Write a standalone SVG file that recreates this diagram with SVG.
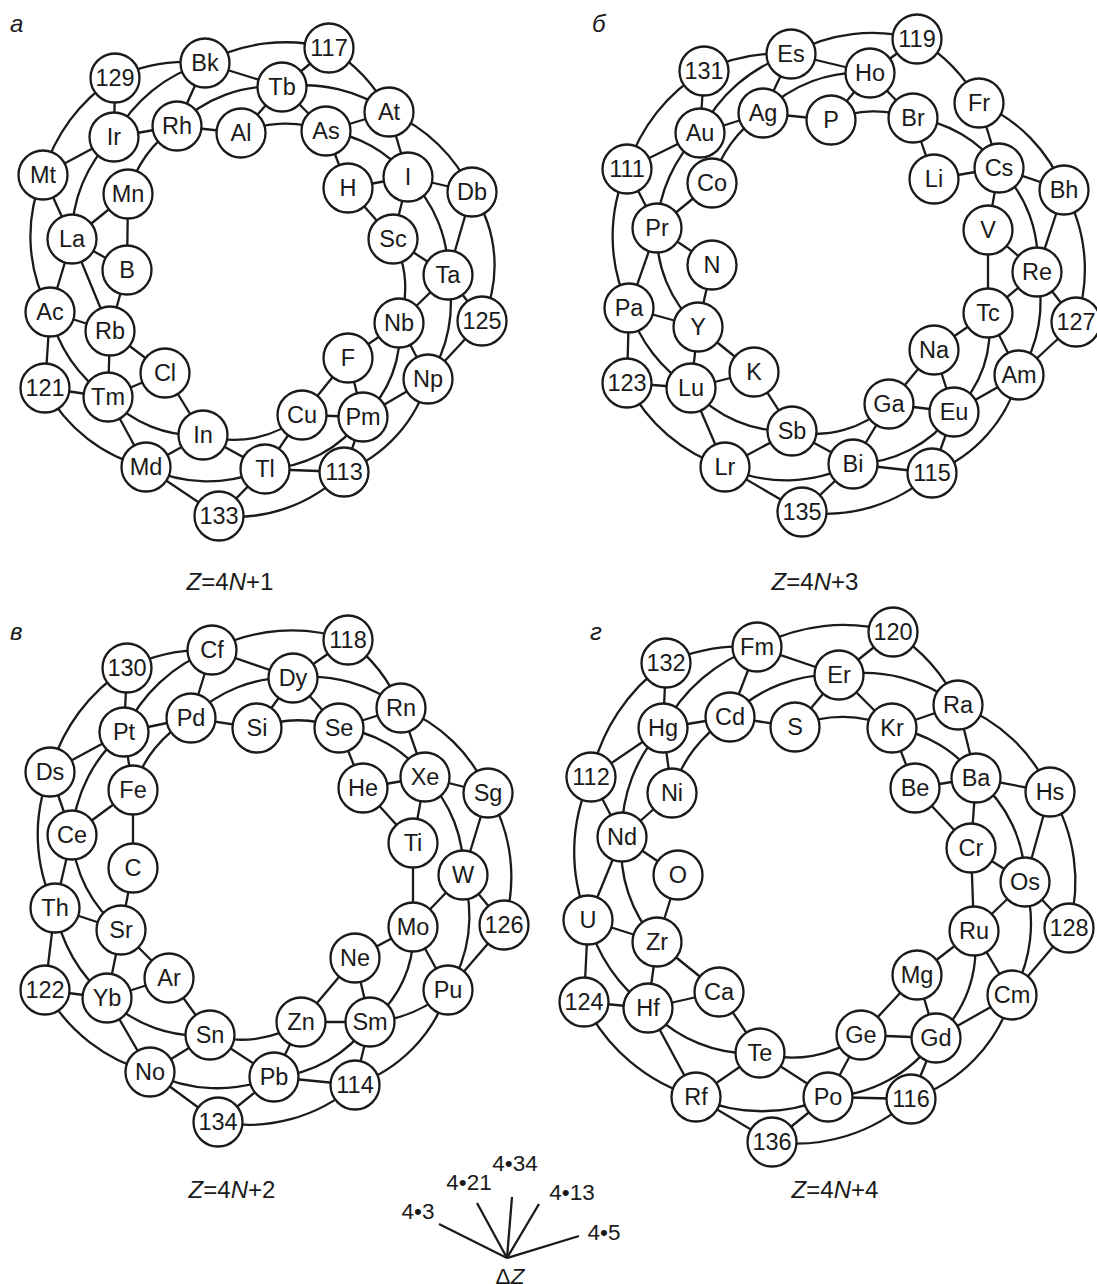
<svg xmlns="http://www.w3.org/2000/svg" width="1097" height="1284" viewBox="0 0 1097 1284">
<style>
.e path{fill:none;stroke:#1a1a1a;stroke-width:2.3}
.n circle{fill:#fff;stroke:#1a1a1a;stroke-width:2.3}
.n text{font-family:"Liberation Sans",Arial,sans-serif;font-size:23.5px;text-anchor:middle;fill:#1a1a1a}
.lbl{font-family:"Liberation Sans",Arial,sans-serif;font-style:italic;font-size:24px;fill:#1a1a1a}
.cap{font-family:"Liberation Sans",Arial,sans-serif;font-size:24px;text-anchor:middle;fill:#1a1a1a}
.lg{font-family:"Liberation Sans",Arial,sans-serif;font-size:22.5px;text-anchor:middle;fill:#1a1a1a}
</style>
<rect width="1097" height="1284" fill="#fff"/>
<g id="connectors" class="e">
<path d="M115 78 A167 167 0 0 1 205 63"/>
<path d="M205 63 A167 167 0 0 1 329 48"/>
<path d="M115 78 L114 137"/>
<path d="M43 175 A171 171 0 0 1 115 78"/>
<path d="M205 63 L282 87"/>
<path d="M205 63 L177 126"/>
<path d="M114 137 A151 151 0 0 1 205 63"/>
<path d="M329 48 L282 87"/>
<path d="M329 48 A163 163 0 0 1 389 112"/>
<path d="M177 126 A132 132 0 0 1 282 87"/>
<path d="M282 87 L241 133"/>
<path d="M282 87 A147 147 0 0 1 389 112"/>
<path d="M282 87 L326 131"/>
<path d="M114 137 L177 126"/>
<path d="M177 126 L241 133"/>
<path d="M241 133 A113 113 0 0 1 326 131"/>
<path d="M326 131 L389 112"/>
<path d="M114 137 L43 175"/>
<path d="M72 239 A138 138 0 0 1 114 137"/>
<path d="M128 194 A117 117 0 0 1 177 126"/>
<path d="M326 131 L348 188"/>
<path d="M326 131 A125 125 0 0 1 408 177"/>
<path d="M389 112 L408 177"/>
<path d="M389 112 A159 159 0 0 1 472 192"/>
<path d="M348 188 L408 177"/>
<path d="M408 177 L472 192"/>
<path d="M43 175 L72 239"/>
<path d="M50 312 A156 156 0 0 1 43 175"/>
<path d="M128 194 L72 239"/>
<path d="M128 194 L127 270"/>
<path d="M72 239 L50 312"/>
<path d="M72 239 L110 331"/>
<path d="M72 239 L127 270"/>
<path d="M393 239 L408 177"/>
<path d="M393 239 L348 188"/>
<path d="M408 177 A133 133 0 0 1 448 275"/>
<path d="M472 192 L448 275"/>
<path d="M472 192 A130 130 0 0 1 482 321"/>
<path d="M393 239 L448 275"/>
<path d="M393 239 A103 103 0 0 1 399 323"/>
<path d="M448 275 L399 323"/>
<path d="M448 275 A137 137 0 0 1 428 379"/>
<path d="M448 275 L482 321"/>
<path d="M482 321 L428 379"/>
<path d="M399 323 L348 358"/>
<path d="M399 323 L428 379"/>
<path d="M399 323 A112 112 0 0 1 363 417"/>
<path d="M348 358 L302 415"/>
<path d="M348 358 L363 417"/>
<path d="M428 379 L363 417"/>
<path d="M428 379 A141 141 0 0 1 344 472"/>
<path d="M302 415 L363 417"/>
<path d="M302 415 A104 104 0 0 1 203 435"/>
<path d="M302 415 L265 469"/>
<path d="M363 417 A124 124 0 0 1 265 469"/>
<path d="M363 417 L344 472"/>
<path d="M265 469 L344 472"/>
<path d="M265 469 L203 435"/>
<path d="M265 469 A139 139 0 0 1 146 467"/>
<path d="M265 469 L219 516"/>
<path d="M344 472 A154 154 0 0 1 219 516"/>
<path d="M203 435 L165 373"/>
<path d="M203 435 A120 120 0 0 1 108 397"/>
<path d="M203 435 L146 467"/>
<path d="M146 467 L108 397"/>
<path d="M146 467 A156 156 0 0 1 45 388"/>
<path d="M146 467 L219 516"/>
<path d="M108 397 L45 388"/>
<path d="M108 397 L165 373"/>
<path d="M108 397 L110 331"/>
<path d="M108 397 A137 137 0 0 1 50 312"/>
<path d="M110 331 L165 373"/>
<path d="M110 331 L50 312"/>
<path d="M127 270 L110 331"/>
<path d="M50 312 L45 388"/>
<path d="M704 71 A169 169 0 0 1 791 54"/>
<path d="M791 54 A167 167 0 0 1 917 39"/>
<path d="M704 71 L700 133"/>
<path d="M627 169 A175 175 0 0 1 704 71"/>
<path d="M791 54 L870 73"/>
<path d="M791 54 L763 113"/>
<path d="M700 133 A153 153 0 0 1 791 54"/>
<path d="M917 39 L870 73"/>
<path d="M917 39 A161 161 0 0 1 979 103"/>
<path d="M763 113 A136 136 0 0 1 870 73"/>
<path d="M870 73 L831 120"/>
<path d="M870 73 L913 118"/>
<path d="M700 133 L763 113"/>
<path d="M763 113 L831 120"/>
<path d="M831 120 A114 114 0 0 1 913 118"/>
<path d="M700 133 L627 169"/>
<path d="M657 228 A143 143 0 0 1 700 133"/>
<path d="M712 183 A123 123 0 0 1 763 113"/>
<path d="M913 118 L934 179"/>
<path d="M913 118 A124 124 0 0 1 999 168"/>
<path d="M979 103 L999 168"/>
<path d="M979 103 A156 156 0 0 1 1064 190"/>
<path d="M934 179 L999 168"/>
<path d="M999 168 L1064 190"/>
<path d="M627 169 L657 228"/>
<path d="M629 308 A165 165 0 0 1 627 169"/>
<path d="M712 183 L657 228"/>
<path d="M999 168 L988 230"/>
<path d="M999 168 A129 129 0 0 1 1037 272"/>
<path d="M1064 190 L1037 272"/>
<path d="M1064 190 A161 161 0 0 1 1076 322"/>
<path d="M657 228 L712 265"/>
<path d="M657 228 L629 308"/>
<path d="M698 327 A126 126 0 0 1 657 228"/>
<path d="M988 230 L1037 272"/>
<path d="M988 230 L988 313"/>
<path d="M629 308 L627 383"/>
<path d="M629 308 L698 327"/>
<path d="M691 388 A147 147 0 0 1 629 308"/>
<path d="M712 265 L698 327"/>
<path d="M698 327 L691 388"/>
<path d="M698 327 L754 372"/>
<path d="M627 383 L691 388"/>
<path d="M725 467 A167 167 0 0 1 627 383"/>
<path d="M691 388 L754 372"/>
<path d="M792 431 A126 126 0 0 1 691 388"/>
<path d="M691 388 L725 467"/>
<path d="M754 372 L792 431"/>
<path d="M889 404 A105 105 0 0 1 792 431"/>
<path d="M792 431 L725 467"/>
<path d="M792 431 L853 464"/>
<path d="M853 464 A146 146 0 0 1 725 467"/>
<path d="M725 467 L802 512"/>
<path d="M853 464 L889 404"/>
<path d="M954 412 A126 126 0 0 1 853 464"/>
<path d="M853 464 L932 473"/>
<path d="M853 464 L802 512"/>
<path d="M932 473 A159 159 0 0 1 802 512"/>
<path d="M889 404 L934 350"/>
<path d="M889 404 L954 412"/>
<path d="M934 350 L988 313"/>
<path d="M934 350 L954 412"/>
<path d="M988 313 A110 110 0 0 1 954 412"/>
<path d="M954 412 L1019 375"/>
<path d="M954 412 L932 473"/>
<path d="M1019 375 A143 143 0 0 1 932 473"/>
<path d="M988 313 L1037 272"/>
<path d="M988 313 L1019 375"/>
<path d="M1037 272 A133 133 0 0 1 1019 375"/>
<path d="M1037 272 L1076 322"/>
<path d="M1076 322 L1019 375"/>
<path d="M127 668 A174 174 0 0 1 212 650"/>
<path d="M212 650 A172 172 0 0 1 348 640"/>
<path d="M127 668 L124 732"/>
<path d="M50 772 A178 178 0 0 1 127 668"/>
<path d="M212 650 L293 678"/>
<path d="M212 650 L191 718"/>
<path d="M124 732 A158 158 0 0 1 212 650"/>
<path d="M348 640 L293 678"/>
<path d="M348 640 A163 163 0 0 1 401 708"/>
<path d="M191 718 A136 136 0 0 1 293 678"/>
<path d="M293 678 L257 728"/>
<path d="M293 678 L339 728"/>
<path d="M293 678 A146 146 0 0 1 401 708"/>
<path d="M124 732 L191 718"/>
<path d="M191 718 L257 728"/>
<path d="M257 728 A112 112 0 0 1 339 728"/>
<path d="M339 728 L401 708"/>
<path d="M339 728 L363 788"/>
<path d="M339 728 A122 122 0 0 1 425 777"/>
<path d="M401 708 L425 777"/>
<path d="M401 708 A155 155 0 0 1 488 793"/>
<path d="M124 732 L50 772"/>
<path d="M72 835 A147 147 0 0 1 124 732"/>
<path d="M124 732 L133 790"/>
<path d="M133 790 A123 123 0 0 1 191 718"/>
<path d="M50 772 L72 835"/>
<path d="M55 908 A165 165 0 0 1 50 772"/>
<path d="M363 788 L425 777"/>
<path d="M363 788 L413 843"/>
<path d="M425 777 L488 793"/>
<path d="M425 777 L413 843"/>
<path d="M425 777 A130 130 0 0 1 463 875"/>
<path d="M488 793 L463 875"/>
<path d="M488 793 A162 162 0 0 1 504 925"/>
<path d="M133 790 L72 835"/>
<path d="M133 790 L133 868"/>
<path d="M72 835 L55 908"/>
<path d="M121 930 A130 130 0 0 1 72 835"/>
<path d="M133 868 L121 930"/>
<path d="M413 843 L413 927"/>
<path d="M463 875 L413 927"/>
<path d="M463 875 A137 137 0 0 1 448 990"/>
<path d="M463 875 L504 925"/>
<path d="M55 908 L121 930"/>
<path d="M55 908 L45 990"/>
<path d="M107 998 A150 150 0 0 1 55 908"/>
<path d="M121 930 L107 998"/>
<path d="M121 930 L169 978"/>
<path d="M413 927 L355 958"/>
<path d="M413 927 A110 110 0 0 1 370 1022"/>
<path d="M413 927 L448 990"/>
<path d="M504 925 L448 990"/>
<path d="M355 958 L301 1022"/>
<path d="M355 958 L370 1022"/>
<path d="M169 978 L107 998"/>
<path d="M169 978 L210 1035"/>
<path d="M45 990 L107 998"/>
<path d="M150 1072 A169 169 0 0 1 45 990"/>
<path d="M210 1035 A130 130 0 0 1 107 998"/>
<path d="M107 998 L150 1072"/>
<path d="M301 1022 L370 1022"/>
<path d="M301 1022 A108 108 0 0 1 210 1035"/>
<path d="M301 1022 L274 1077"/>
<path d="M370 1022 A128 128 0 0 1 274 1077"/>
<path d="M370 1022 L355 1085"/>
<path d="M448 990 A131 131 0 0 1 370 1022"/>
<path d="M448 990 A148 148 0 0 1 355 1085"/>
<path d="M210 1035 L150 1072"/>
<path d="M210 1035 L274 1077"/>
<path d="M274 1077 A148 148 0 0 1 150 1072"/>
<path d="M150 1072 L218 1122"/>
<path d="M274 1077 L355 1085"/>
<path d="M274 1077 L218 1122"/>
<path d="M355 1085 A163 163 0 0 1 218 1122"/>
<path d="M666 663 A184 184 0 0 1 757 647"/>
<path d="M757 647 A180 180 0 0 1 893 632"/>
<path d="M666 663 L663 728"/>
<path d="M591 777 A187 187 0 0 1 666 663"/>
<path d="M757 647 L839 675"/>
<path d="M757 647 L730 717"/>
<path d="M663 728 A167 167 0 0 1 757 647"/>
<path d="M893 632 L839 675"/>
<path d="M893 632 A171 171 0 0 1 958 705"/>
<path d="M730 717 A143 143 0 0 1 839 675"/>
<path d="M839 675 L795 727"/>
<path d="M839 675 L892 728"/>
<path d="M839 675 A153 153 0 0 1 958 705"/>
<path d="M663 728 L730 717"/>
<path d="M730 717 L795 727"/>
<path d="M795 727 A117 117 0 0 1 892 728"/>
<path d="M892 728 L958 705"/>
<path d="M892 728 L915 788"/>
<path d="M892 728 A125 125 0 0 1 976 778"/>
<path d="M958 705 L976 778"/>
<path d="M958 705 A164 164 0 0 1 1050 792"/>
<path d="M663 728 L591 777"/>
<path d="M622 837 A153 153 0 0 1 663 728"/>
<path d="M663 728 L672 793"/>
<path d="M672 793 A131 131 0 0 1 730 717"/>
<path d="M915 788 L976 778"/>
<path d="M915 788 L971 848"/>
<path d="M976 778 L1050 792"/>
<path d="M976 778 L971 848"/>
<path d="M976 778 A134 134 0 0 1 1025 882"/>
<path d="M1050 792 L1025 882"/>
<path d="M1050 792 A171 171 0 0 1 1069 928"/>
<path d="M591 777 L622 837"/>
<path d="M588 920 A175 175 0 0 1 591 777"/>
<path d="M672 793 L622 837"/>
<path d="M622 837 L588 920"/>
<path d="M657 942 A136 136 0 0 1 622 837"/>
<path d="M622 837 L678 875"/>
<path d="M678 875 L657 942"/>
<path d="M588 920 L657 942"/>
<path d="M588 920 L584 1002"/>
<path d="M648 1008 A159 159 0 0 1 588 920"/>
<path d="M657 942 L648 1008"/>
<path d="M657 942 L719 992"/>
<path d="M971 848 L974 931"/>
<path d="M971 848 L1025 882"/>
<path d="M1025 882 L974 931"/>
<path d="M1025 882 A145 145 0 0 1 1012 995"/>
<path d="M1025 882 L1069 928"/>
<path d="M974 931 L917 975"/>
<path d="M974 931 A119 119 0 0 1 936 1038"/>
<path d="M974 931 L1012 995"/>
<path d="M1069 928 L1012 995"/>
<path d="M917 975 L861 1035"/>
<path d="M917 975 L936 1038"/>
<path d="M584 1002 L648 1008"/>
<path d="M696 1097 A180 180 0 0 1 584 1002"/>
<path d="M648 1008 L719 992"/>
<path d="M760 1053 A138 138 0 0 1 648 1008"/>
<path d="M648 1008 L696 1097"/>
<path d="M719 992 L760 1053"/>
<path d="M861 1035 A116 116 0 0 1 760 1053"/>
<path d="M861 1035 L936 1038"/>
<path d="M861 1035 L828 1097"/>
<path d="M936 1038 A139 139 0 0 1 828 1097"/>
<path d="M936 1038 L911 1099"/>
<path d="M1012 995 L936 1038"/>
<path d="M1012 995 A155 155 0 0 1 911 1099"/>
<path d="M760 1053 L696 1097"/>
<path d="M760 1053 L828 1097"/>
<path d="M828 1097 A160 160 0 0 1 696 1097"/>
<path d="M696 1097 L772 1142"/>
<path d="M828 1097 L772 1142"/>
<path d="M828 1097 L911 1099"/>
<path d="M911 1099 A171 171 0 0 1 772 1142"/>
<path d="M507 1258 L439 1224"/>
<path d="M507 1258 L477 1203"/>
<path d="M507 1258 L512 1197"/>
<path d="M507 1258 L539 1204"/>
<path d="M507 1258 L579 1236"/>
</g>
<g id="a-129" class="n"><circle cx="115" cy="78" r="24.5"/><text x="115" y="86">129</text></g>
<g id="a-Bk" class="n"><circle cx="205" cy="63" r="24.5"/><text x="205" y="71">Bk</text></g>
<g id="a-117" class="n"><circle cx="329" cy="48" r="24.5"/><text x="329" y="56">117</text></g>
<g id="a-Tb" class="n"><circle cx="282" cy="87" r="24.5"/><text x="282" y="95">Tb</text></g>
<g id="a-At" class="n"><circle cx="389" cy="112" r="24.5"/><text x="389" y="120">At</text></g>
<g id="a-Ir" class="n"><circle cx="114" cy="137" r="24.5"/><text x="114" y="145">Ir</text></g>
<g id="a-Rh" class="n"><circle cx="177" cy="126" r="24.5"/><text x="177" y="134">Rh</text></g>
<g id="a-Al" class="n"><circle cx="241" cy="133" r="24.5"/><text x="241" y="141">Al</text></g>
<g id="a-As" class="n"><circle cx="326" cy="131" r="24.5"/><text x="326" y="139">As</text></g>
<g id="a-Mt" class="n"><circle cx="43" cy="175" r="24.5"/><text x="43" y="183">Mt</text></g>
<g id="a-Mn" class="n"><circle cx="128" cy="194" r="24.5"/><text x="128" y="202">Mn</text></g>
<g id="a-H" class="n"><circle cx="348" cy="188" r="24.5"/><text x="348" y="196">H</text></g>
<g id="a-I" class="n"><circle cx="408" cy="177" r="24.5"/><text x="408" y="185">I</text></g>
<g id="a-Db" class="n"><circle cx="472" cy="192" r="24.5"/><text x="472" y="200">Db</text></g>
<g id="a-La" class="n"><circle cx="72" cy="239" r="24.5"/><text x="72" y="247">La</text></g>
<g id="a-Sc" class="n"><circle cx="393" cy="239" r="24.5"/><text x="393" y="247">Sc</text></g>
<g id="a-B" class="n"><circle cx="127" cy="270" r="24.5"/><text x="127" y="278">B</text></g>
<g id="a-Ta" class="n"><circle cx="448" cy="275" r="24.5"/><text x="448" y="283">Ta</text></g>
<g id="a-Ac" class="n"><circle cx="50" cy="312" r="24.5"/><text x="50" y="320">Ac</text></g>
<g id="a-Rb" class="n"><circle cx="110" cy="331" r="24.5"/><text x="110" y="339">Rb</text></g>
<g id="a-Nb" class="n"><circle cx="399" cy="323" r="24.5"/><text x="399" y="331">Nb</text></g>
<g id="a-125" class="n"><circle cx="482" cy="321" r="24.5"/><text x="482" y="329">125</text></g>
<g id="a-Cl" class="n"><circle cx="165" cy="373" r="24.5"/><text x="165" y="381">Cl</text></g>
<g id="a-F" class="n"><circle cx="348" cy="358" r="24.5"/><text x="348" y="366">F</text></g>
<g id="a-Np" class="n"><circle cx="428" cy="379" r="24.5"/><text x="428" y="387">Np</text></g>
<g id="a-121" class="n"><circle cx="45" cy="388" r="24.5"/><text x="45" y="396">121</text></g>
<g id="a-Tm" class="n"><circle cx="108" cy="397" r="24.5"/><text x="108" y="405">Tm</text></g>
<g id="a-In" class="n"><circle cx="203" cy="435" r="24.5"/><text x="203" y="443">In</text></g>
<g id="a-Cu" class="n"><circle cx="302" cy="415" r="24.5"/><text x="302" y="423">Cu</text></g>
<g id="a-Pm" class="n"><circle cx="363" cy="417" r="24.5"/><text x="363" y="425">Pm</text></g>
<g id="a-Md" class="n"><circle cx="146" cy="467" r="24.5"/><text x="146" y="475">Md</text></g>
<g id="a-Tl" class="n"><circle cx="265" cy="469" r="24.5"/><text x="265" y="477">Tl</text></g>
<g id="a-113" class="n"><circle cx="344" cy="472" r="24.5"/><text x="344" y="480">113</text></g>
<g id="a-133" class="n"><circle cx="219" cy="516" r="24.5"/><text x="219" y="524">133</text></g>
<g id="b-119" class="n"><circle cx="917" cy="39" r="24.5"/><text x="917" y="47">119</text></g>
<g id="b-Es" class="n"><circle cx="791" cy="54" r="24.5"/><text x="791" y="62">Es</text></g>
<g id="b-131" class="n"><circle cx="704" cy="71" r="24.5"/><text x="704" y="79">131</text></g>
<g id="b-Ho" class="n"><circle cx="870" cy="73" r="24.5"/><text x="870" y="81">Ho</text></g>
<g id="b-Fr" class="n"><circle cx="979" cy="103" r="24.5"/><text x="979" y="111">Fr</text></g>
<g id="b-Ag" class="n"><circle cx="763" cy="113" r="24.5"/><text x="763" y="121">Ag</text></g>
<g id="b-P" class="n"><circle cx="831" cy="120" r="24.5"/><text x="831" y="128">P</text></g>
<g id="b-Br" class="n"><circle cx="913" cy="118" r="24.5"/><text x="913" y="126">Br</text></g>
<g id="b-Au" class="n"><circle cx="700" cy="133" r="24.5"/><text x="700" y="141">Au</text></g>
<g id="b-Cs" class="n"><circle cx="999" cy="168" r="24.5"/><text x="999" y="176">Cs</text></g>
<g id="b-111" class="n"><circle cx="627" cy="169" r="24.5"/><text x="627" y="177">111</text></g>
<g id="b-Co" class="n"><circle cx="712" cy="183" r="24.5"/><text x="712" y="191">Co</text></g>
<g id="b-Li" class="n"><circle cx="934" cy="179" r="24.5"/><text x="934" y="187">Li</text></g>
<g id="b-Bh" class="n"><circle cx="1064" cy="190" r="24.5"/><text x="1064" y="198">Bh</text></g>
<g id="b-Pr" class="n"><circle cx="657" cy="228" r="24.5"/><text x="657" y="236">Pr</text></g>
<g id="b-V" class="n"><circle cx="988" cy="230" r="24.5"/><text x="988" y="238">V</text></g>
<g id="b-N" class="n"><circle cx="712" cy="265" r="24.5"/><text x="712" y="273">N</text></g>
<g id="b-Re" class="n"><circle cx="1037" cy="272" r="24.5"/><text x="1037" y="280">Re</text></g>
<g id="b-Pa" class="n"><circle cx="629" cy="308" r="24.5"/><text x="629" y="316">Pa</text></g>
<g id="b-Tc" class="n"><circle cx="988" cy="313" r="24.5"/><text x="988" y="321">Tc</text></g>
<g id="b-127" class="n"><circle cx="1076" cy="322" r="24.5"/><text x="1076" y="330">127</text></g>
<g id="b-Y" class="n"><circle cx="698" cy="327" r="24.5"/><text x="698" y="335">Y</text></g>
<g id="b-Na" class="n"><circle cx="934" cy="350" r="24.5"/><text x="934" y="358">Na</text></g>
<g id="b-K" class="n"><circle cx="754" cy="372" r="24.5"/><text x="754" y="380">K</text></g>
<g id="b-123" class="n"><circle cx="627" cy="383" r="24.5"/><text x="627" y="391">123</text></g>
<g id="b-Lu" class="n"><circle cx="691" cy="388" r="24.5"/><text x="691" y="396">Lu</text></g>
<g id="b-Am" class="n"><circle cx="1019" cy="375" r="24.5"/><text x="1019" y="383">Am</text></g>
<g id="b-Ga" class="n"><circle cx="889" cy="404" r="24.5"/><text x="889" y="412">Ga</text></g>
<g id="b-Eu" class="n"><circle cx="954" cy="412" r="24.5"/><text x="954" y="420">Eu</text></g>
<g id="b-Sb" class="n"><circle cx="792" cy="431" r="24.5"/><text x="792" y="439">Sb</text></g>
<g id="b-Lr" class="n"><circle cx="725" cy="467" r="24.5"/><text x="725" y="475">Lr</text></g>
<g id="b-Bi" class="n"><circle cx="853" cy="464" r="24.5"/><text x="853" y="472">Bi</text></g>
<g id="b-115" class="n"><circle cx="932" cy="473" r="24.5"/><text x="932" y="481">115</text></g>
<g id="b-135" class="n"><circle cx="802" cy="512" r="24.5"/><text x="802" y="520">135</text></g>
<g id="c-118" class="n"><circle cx="348" cy="640" r="24.5"/><text x="348" y="648">118</text></g>
<g id="c-Cf" class="n"><circle cx="212" cy="650" r="24.5"/><text x="212" y="658">Cf</text></g>
<g id="c-130" class="n"><circle cx="127" cy="668" r="24.5"/><text x="127" y="676">130</text></g>
<g id="c-Dy" class="n"><circle cx="293" cy="678" r="24.5"/><text x="293" y="686">Dy</text></g>
<g id="c-Rn" class="n"><circle cx="401" cy="708" r="24.5"/><text x="401" y="716">Rn</text></g>
<g id="c-Pd" class="n"><circle cx="191" cy="718" r="24.5"/><text x="191" y="726">Pd</text></g>
<g id="c-Si" class="n"><circle cx="257" cy="728" r="24.5"/><text x="257" y="736">Si</text></g>
<g id="c-Se" class="n"><circle cx="339" cy="728" r="24.5"/><text x="339" y="736">Se</text></g>
<g id="c-Pt" class="n"><circle cx="124" cy="732" r="24.5"/><text x="124" y="740">Pt</text></g>
<g id="c-Ds" class="n"><circle cx="50" cy="772" r="24.5"/><text x="50" y="780">Ds</text></g>
<g id="c-Xe" class="n"><circle cx="425" cy="777" r="24.5"/><text x="425" y="785">Xe</text></g>
<g id="c-He" class="n"><circle cx="363" cy="788" r="24.5"/><text x="363" y="796">He</text></g>
<g id="c-Sg" class="n"><circle cx="488" cy="793" r="24.5"/><text x="488" y="801">Sg</text></g>
<g id="c-Fe" class="n"><circle cx="133" cy="790" r="24.5"/><text x="133" y="798">Fe</text></g>
<g id="c-Ce" class="n"><circle cx="72" cy="835" r="24.5"/><text x="72" y="843">Ce</text></g>
<g id="c-Ti" class="n"><circle cx="413" cy="843" r="24.5"/><text x="413" y="851">Ti</text></g>
<g id="c-C" class="n"><circle cx="133" cy="868" r="24.5"/><text x="133" y="876">C</text></g>
<g id="c-W" class="n"><circle cx="463" cy="875" r="24.5"/><text x="463" y="883">W</text></g>
<g id="c-Th" class="n"><circle cx="55" cy="908" r="24.5"/><text x="55" y="916">Th</text></g>
<g id="c-Mo" class="n"><circle cx="413" cy="927" r="24.5"/><text x="413" y="935">Mo</text></g>
<g id="c-Sr" class="n"><circle cx="121" cy="930" r="24.5"/><text x="121" y="938">Sr</text></g>
<g id="c-126" class="n"><circle cx="504" cy="925" r="24.5"/><text x="504" y="933">126</text></g>
<g id="c-Ne" class="n"><circle cx="355" cy="958" r="24.5"/><text x="355" y="966">Ne</text></g>
<g id="c-Ar" class="n"><circle cx="169" cy="978" r="24.5"/><text x="169" y="986">Ar</text></g>
<g id="c-Pu" class="n"><circle cx="448" cy="990" r="24.5"/><text x="448" y="998">Pu</text></g>
<g id="c-122" class="n"><circle cx="45" cy="990" r="24.5"/><text x="45" y="998">122</text></g>
<g id="c-Yb" class="n"><circle cx="107" cy="998" r="24.5"/><text x="107" y="1006">Yb</text></g>
<g id="c-Sn" class="n"><circle cx="210" cy="1035" r="24.5"/><text x="210" y="1043">Sn</text></g>
<g id="c-Zn" class="n"><circle cx="301" cy="1022" r="24.5"/><text x="301" y="1030">Zn</text></g>
<g id="c-Sm" class="n"><circle cx="370" cy="1022" r="24.5"/><text x="370" y="1030">Sm</text></g>
<g id="c-No" class="n"><circle cx="150" cy="1072" r="24.5"/><text x="150" y="1080">No</text></g>
<g id="c-Pb" class="n"><circle cx="274" cy="1077" r="24.5"/><text x="274" y="1085">Pb</text></g>
<g id="c-114" class="n"><circle cx="355" cy="1085" r="24.5"/><text x="355" y="1093">114</text></g>
<g id="c-134" class="n"><circle cx="218" cy="1122" r="24.5"/><text x="218" y="1130">134</text></g>
<g id="d-120" class="n"><circle cx="893" cy="632" r="24.5"/><text x="893" y="640">120</text></g>
<g id="d-Fm" class="n"><circle cx="757" cy="647" r="24.5"/><text x="757" y="655">Fm</text></g>
<g id="d-132" class="n"><circle cx="666" cy="663" r="24.5"/><text x="666" y="671">132</text></g>
<g id="d-Er" class="n"><circle cx="839" cy="675" r="24.5"/><text x="839" y="683">Er</text></g>
<g id="d-Ra" class="n"><circle cx="958" cy="705" r="24.5"/><text x="958" y="713">Ra</text></g>
<g id="d-Cd" class="n"><circle cx="730" cy="717" r="24.5"/><text x="730" y="725">Cd</text></g>
<g id="d-S" class="n"><circle cx="795" cy="727" r="24.5"/><text x="795" y="735">S</text></g>
<g id="d-Kr" class="n"><circle cx="892" cy="728" r="24.5"/><text x="892" y="736">Kr</text></g>
<g id="d-Hg" class="n"><circle cx="663" cy="728" r="24.5"/><text x="663" y="736">Hg</text></g>
<g id="d-112" class="n"><circle cx="591" cy="777" r="24.5"/><text x="591" y="785">112</text></g>
<g id="d-Ba" class="n"><circle cx="976" cy="778" r="24.5"/><text x="976" y="786">Ba</text></g>
<g id="d-Hs" class="n"><circle cx="1050" cy="792" r="24.5"/><text x="1050" y="800">Hs</text></g>
<g id="d-Be" class="n"><circle cx="915" cy="788" r="24.5"/><text x="915" y="796">Be</text></g>
<g id="d-Ni" class="n"><circle cx="672" cy="793" r="24.5"/><text x="672" y="801">Ni</text></g>
<g id="d-Nd" class="n"><circle cx="622" cy="837" r="24.5"/><text x="622" y="845">Nd</text></g>
<g id="d-Cr" class="n"><circle cx="971" cy="848" r="24.5"/><text x="971" y="856">Cr</text></g>
<g id="d-O" class="n"><circle cx="678" cy="875" r="24.5"/><text x="678" y="883">O</text></g>
<g id="d-Os" class="n"><circle cx="1025" cy="882" r="24.5"/><text x="1025" y="890">Os</text></g>
<g id="d-U" class="n"><circle cx="588" cy="920" r="24.5"/><text x="588" y="928">U</text></g>
<g id="d-Ru" class="n"><circle cx="974" cy="931" r="24.5"/><text x="974" y="939">Ru</text></g>
<g id="d-128" class="n"><circle cx="1069" cy="928" r="24.5"/><text x="1069" y="936">128</text></g>
<g id="d-Zr" class="n"><circle cx="657" cy="942" r="24.5"/><text x="657" y="950">Zr</text></g>
<g id="d-Mg" class="n"><circle cx="917" cy="975" r="24.5"/><text x="917" y="983">Mg</text></g>
<g id="d-Ca" class="n"><circle cx="719" cy="992" r="24.5"/><text x="719" y="1000">Ca</text></g>
<g id="d-Cm" class="n"><circle cx="1012" cy="995" r="24.5"/><text x="1012" y="1003">Cm</text></g>
<g id="d-124" class="n"><circle cx="584" cy="1002" r="24.5"/><text x="584" y="1010">124</text></g>
<g id="d-Hf" class="n"><circle cx="648" cy="1008" r="24.5"/><text x="648" y="1016">Hf</text></g>
<g id="d-Ge" class="n"><circle cx="861" cy="1035" r="24.5"/><text x="861" y="1043">Ge</text></g>
<g id="d-Gd" class="n"><circle cx="936" cy="1038" r="24.5"/><text x="936" y="1046">Gd</text></g>
<g id="d-Te" class="n"><circle cx="760" cy="1053" r="24.5"/><text x="760" y="1061">Te</text></g>
<g id="d-Rf" class="n"><circle cx="696" cy="1097" r="24.5"/><text x="696" y="1105">Rf</text></g>
<g id="d-Po" class="n"><circle cx="828" cy="1097" r="24.5"/><text x="828" y="1105">Po</text></g>
<g id="d-116" class="n"><circle cx="911" cy="1099" r="24.5"/><text x="911" y="1107">116</text></g>
<g id="d-136" class="n"><circle cx="772" cy="1142" r="24.5"/><text x="772" y="1150">136</text></g>
<text class="lbl" x="10" y="32">а</text>
<text class="lbl" x="592" y="32">б</text>
<text class="lbl" x="10" y="640">в</text>
<text class="lbl" x="590" y="640">г</text>
<text class="cap" x="230" y="590"><tspan font-style="italic">Z</tspan>=4<tspan font-style="italic">N</tspan>+1</text>
<text class="cap" x="815" y="590"><tspan font-style="italic">Z</tspan>=4<tspan font-style="italic">N</tspan>+3</text>
<text class="cap" x="232" y="1198"><tspan font-style="italic">Z</tspan>=4<tspan font-style="italic">N</tspan>+2</text>
<text class="cap" x="835" y="1198"><tspan font-style="italic">Z</tspan>=4<tspan font-style="italic">N</tspan>+4</text>
<g id="legend">
<text class="lg" x="418" y="1219">4•3</text>
<text class="lg" x="469" y="1190">4•21</text>
<text class="lg" x="515" y="1171">4•34</text>
<text class="lg" x="572" y="1200">4•13</text>
<text class="lg" x="604" y="1240">4•5</text>
<text class="lg" x="510" y="1284">Δ<tspan font-style="italic">Z</tspan></text>
</g>
</svg>
